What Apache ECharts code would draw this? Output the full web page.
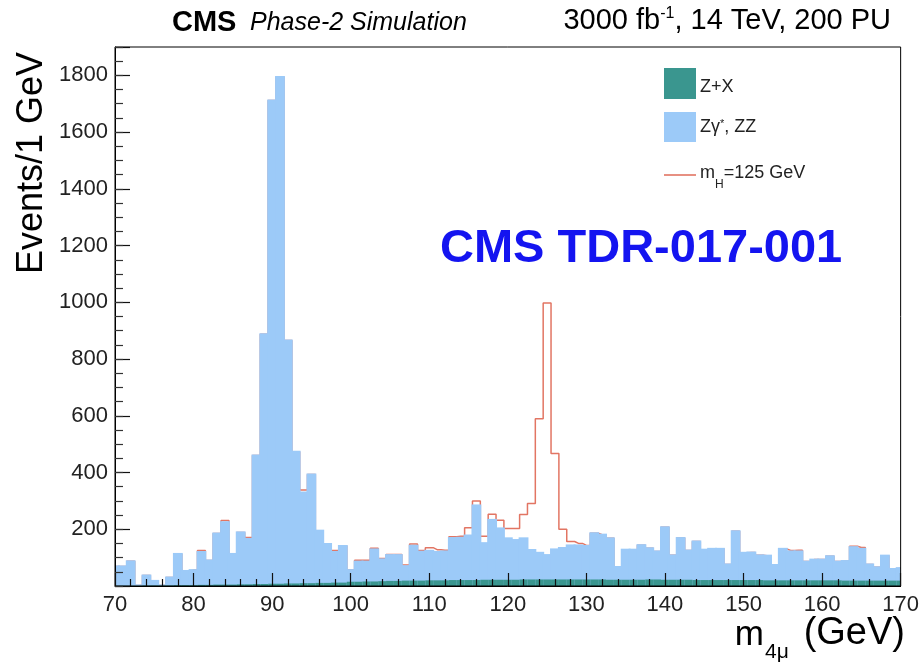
<!DOCTYPE html>
<html><head><meta charset="utf-8">
<script src="https://cdn.jsdelivr.net/npm/echarts@6/dist/echarts.min.js"></script>
<style>html,body{margin:0;padding:0;background:#fff}#c{width:922px;height:664px}</style>
</head><body><div id="c"></div>
<script>
// bin centres in GeV (1 GeV wide bins)
const binCenters = Array.from({length: 101}, (_, i) => 70 + i);
// Z+X background (events / bin)
const zPlusX = [
  1,1,1,1,2,2,2,2,
  3,3,3,4,4,5,5,5,
  6,6,7,7,8,8,9,9,
  10,10,11,11,12,12,15,15,
  16,16,17,18,18,19,19,19,
  20,20,20,21,21,21,21,22,22,22,22,22,23,23,23,23,23,23,23,23,
  23,23,23,22,22,22,22,22,23,23,22,22,22,22,21,21,21,21,21,21,
  21,21,21,20,20,20,20,20,20,20,20,20,20,19,19,19,19,19,19,19,19
];
// Zgamma*, ZZ background (events / bin)
const zzBkg = [
  68,68,86,1,35,16,0,28,110,50,
  53,116,86,180,220,108,183,160,453,880,
  1703,1786,856,464,320,383,184,137,108,129,
  41,71,70,113,77,91,91,51,123,102,
  104,100,102,148,149,157,263,129,211,181,
  146,140,145,104,94,86,106,111,120,120,
  118,163,158,146,45,106,106,122,110,99,
  185,86,147,103,136,107,110,110,55,172,
  96,97,87,87,54,111,102,102,66,73,
  73,85,66,69,118,112,57,47,88,41,44
];
// Higgs signal mH = 125 GeV (events / bin)
const higgs = [
  0,0,0,0,0,0,0,0,0,0,
  0,5,0,0,6,0,0,5,0,0,
  0,0,0,0,8,0,0,0,5,0,
  0,5,5,4,3,2,2,4,6,4,
  11,8,4,5,5,27,16,24,20,29,
  35,41,84,164,473,889,338,66,14,7,
  2,0,0,0,0,0,0,0,0,0,
  0,0,0,0,0,0,0,0,0,0,
  0,0,0,0,0,0,3,4,0,0,
  0,0,0,0,3,5,0,0,0,0,0
];
const xTickValues = [70,80,90,100,110,120,130,140,150,160,170];
const yTickValues = [200,400,600,800,1000,1200,1400,1600,1800];

const COL_ZX = '#3a968f', COL_ZZ = '#9ccaf8', COL_H = '#e27563';
const FONT = 'Liberation Sans';

const greenData = binCenters.map((c, i) => [c, 0, zPlusX[i]]);
const blueData = binCenters.map((c, i) => [c, 0, zPlusX[i] + zzBkg[i]]);
const redData = binCenters.map((c, i) => [c, zPlusX[i] + zzBkg[i] + higgs[i]]);

function rectRenderer(color, grow) {
  return function (params, api) {
    const c = api.value(0), lo = api.value(1), hi = api.value(2);
    if (hi <= lo) return;
    const p1 = api.coord([c - 0.5, hi]);
    const p2 = api.coord([c + 0.5, lo]);
    const cs = params.coordSys;
    const shape = echarts.graphic.clipRectByRect(
      {x: p1[0] - grow, y: p1[1] - grow, width: p2[0] - p1[0] + 2 * grow, height: p2[1] - p1[1] + grow},
      {x: cs.x, y: cs.y, width: cs.width, height: cs.height});
    if (!shape) return;
    return {type: 'rect', shape: shape, style: {fill: color}};
  };
}

const chart = echarts.init(document.getElementById('c'), null, {renderer: 'canvas'});
chart.setOption({
  animation: false,
  backgroundColor: '#fff',
  grid: {left: 115, right: 19, top: 47, bottom: 78, show: true, borderColor: '#000', borderWidth: 1, z: 10},
  xAxis: {
    type: 'value', min: 70, max: 170, interval: 10, z: 10,
    axisLine: {show: true, onZero: false, lineStyle: {color: '#000', width: 1}},
    axisTick: {show: true, inside: true, length: 13, lineStyle: {color: '#111', width: 1.2}},
    minorTick: {show: true, splitNumber: 5, length: 7, lineStyle: {color: '#111', width: 1.2}},
    splitLine: {show: false},
    axisLabel: {
      fontSize: 22, color: '#222', fontFamily: FONT, margin: 8,
      formatter: v => xTickValues.includes(v) ? String(v) : ''
    }
  },
  yAxis: [{
    type: 'value', min: 0, max: 1900, interval: 200, z: 10,
    axisLine: {show: true, lineStyle: {color: '#000', width: 1}},
    axisTick: {show: true, inside: true, length: 15, lineStyle: {color: '#111', width: 1.2}},
    splitLine: {show: false},
    axisLabel: {
      fontSize: 22, color: '#222', fontFamily: FONT, margin: 7,
      formatter: v => yTickValues.includes(v) ? String(v) : ''
    }
  }, {
    type: 'value', min: 0, max: 1900, interval: 50, position: 'left', z: 10,
    axisLine: {show: false},
    axisTick: {show: true, inside: true, length: 8, lineStyle: {color: '#333', width: 1.2}},
    splitLine: {show: false},
    axisLabel: {show: false}
  }],
  series: [
    {
      type: 'line', name: 'mH=125 GeV', data: redData, step: 'middle', z: 2,
      showSymbol: false, symbol: 'none', clip: true,
      lineStyle: {color: COL_H, width: 1.5}
    },
    {
      type: 'custom', name: 'ZZ', data: blueData, z: 3, clip: true,
      renderItem: rectRenderer(COL_ZZ, 1)
    },
    {
      type: 'custom', name: 'Z+X', data: greenData, z: 4, clip: true,
      renderItem: rectRenderer(COL_ZX, 0)
    }
  ],
  graphic: [
    {type: 'text', left: 172, top: 8, style: {text: 'CMS', font: 'bold 29px ' + FONT, fill: '#000'}},
    {type: 'text', left: 250, top: 11, style: {text: 'Phase-2 Simulation', font: 'italic 25px ' + FONT, fill: '#000'}},
    {type: 'text', right: 31, top: 6, style: {
      text: '{a|3000 fb}{s|-1}{a|, 14 TeV, 200 PU}',
      rich: {a: {font: '29px ' + FONT, fill: '#000', verticalAlign: 'bottom'},
             s: {font: '16px ' + FONT, fill: '#000', verticalAlign: 'top'}}
    }},
    {type: 'text', x: 32, y: 163, rotation: Math.PI / 2, style: {
      text: 'Events/1 GeV', font: '36px ' + FONT, fill: '#000', align: 'center', verticalAlign: 'middle'}},
    // x-axis title: m_{4mu} (GeV)
    {type: 'text', x: 905, y: 634, style: {
      text: '(GeV)', font: '38px ' + FONT, fill: '#000', align: 'right', verticalAlign: 'middle'}},
    {type: 'text', x: 765, y: 652, style: {
      text: '4μ', font: '21px ' + FONT, fill: '#000', align: 'left', verticalAlign: 'middle'}},
    {type: 'text', x: 764, y: 635, style: {
      text: 'm', font: '35px ' + FONT, fill: '#000', align: 'right', verticalAlign: 'middle'}},
    {type: 'text', left: 440, top: 226, style: {
      text: 'CMS TDR-017-001', font: 'bold 47px ' + FONT, fill: '#1414f0'}},
    // legend
    {type: 'rect', shape: {x: 664, y: 68, width: 32, height: 31}, style: {fill: COL_ZX}},
    {type: 'text', left: 700, top: 78, style: {text: 'Z+X', font: '18px ' + FONT, fill: '#222'}},
    {type: 'rect', shape: {x: 664, y: 112, width: 32, height: 30}, style: {fill: COL_ZZ}},
    {type: 'text', left: 700, top: 118, style: {
      text: '{a|Zγ}{s|*}{a|, ZZ}',
      rich: {a: {font: '18px ' + FONT, fill: '#222', verticalAlign: 'bottom'},
             s: {font: '11px ' + FONT, fill: '#222', verticalAlign: 'top'}}
    }},
    {type: 'line', shape: {x1: 664, y1: 175, x2: 696, y2: 175}, style: {stroke: COL_H, lineWidth: 1.6}},
    {type: 'text', left: 700, top: 164, style: {
      text: '{a|m}{s|H}{a|=125 GeV}',
      rich: {a: {font: '18px ' + FONT, fill: '#222', verticalAlign: 'top', lineHeight: 20},
             s: {font: '12px ' + FONT, fill: '#222', verticalAlign: 'bottom', lineHeight: 27}}
    }}
  ]
});
</script>
</body></html>
